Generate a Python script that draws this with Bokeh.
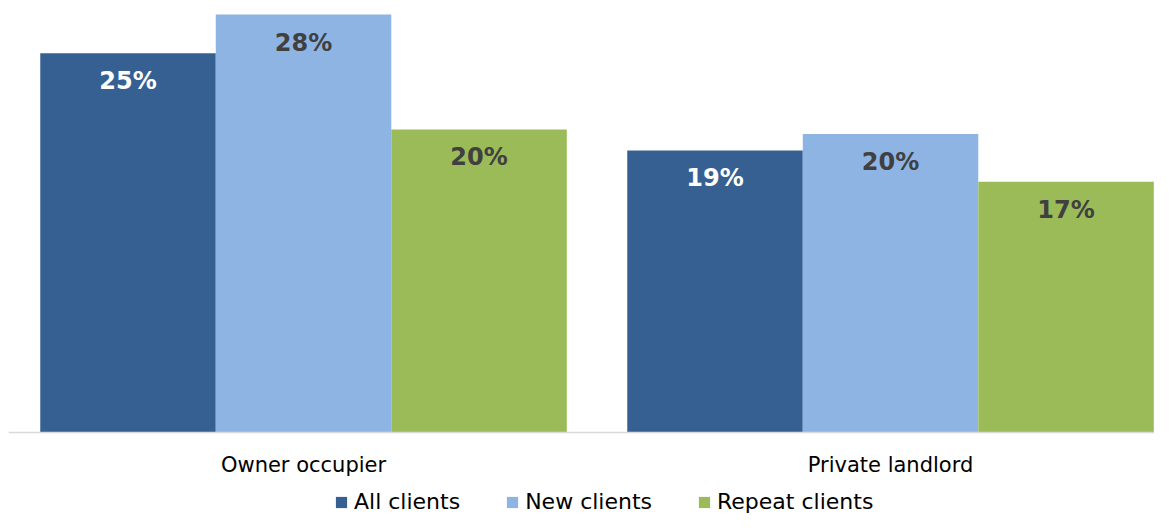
from bokeh.plotting import figure
from bokeh.models import Range1d, Legend, LegendItem, ColumnDataSource, Span
from bokeh.transform import dodge
from bokeh.core.properties import value
from bokeh.embed import file_html
from bokeh.resources import INLINE

categories = ["Owner occupier", "Private landlord"]
series = ["All clients", "New clients", "Repeat clients"]
all_clients = [25.4, 18.9]
new_clients = [28.0, 20.0]
repeat_clients = [20.3, 16.8]
colors = ["#376092", "#8EB4E3", "#9BBB59"]
label_colors = ["#FFFFFF", "#404040", "#404040"]

FONT = "DejaVu Sans"

p = figure(width=1154, height=514, output_backend="svg", toolbar_location=None,
           x_range=Range1d(-0.5026, 1.4497), y_range=Range1d(-5.49, 28.94),
           x_axis_location=None, y_axis_location=None,
           min_border_left=8, min_border_right=0,
           min_border_top=0, min_border_bottom=0, outline_line_color=None)
p.xgrid.visible = False
p.ygrid.visible = False

xs = list(range(len(categories)))
offsets = [-0.299, 0.0, 0.299]
renderers = []
for vals, col, lcol, off, name in zip([all_clients, new_clients, repeat_clients], colors,
                                      label_colors, offsets, series):
    src = ColumnDataSource(dict(x=xs, top=vals, lab=[f"{round(v)}%" for v in vals]))
    r = p.vbar(x=dodge("x", off), top="top", bottom=0, width=0.299, source=src,
               fill_color=col, line_color=None)
    renderers.append((name, r))
    p.text(x=dodge("x", off), y="top", text="lab", source=src, y_offset=28,
           text_align="center", text_baseline="middle", text_color=lcol,
           text_font=value(FONT), text_font_style="bold", text_font_size="24px")

# category axis: baseline line and labels
p.add_layout(Span(location=0, dimension="width", line_color="#D9D9D9", line_width=1.5))
cat_src = ColumnDataSource(dict(x=xs, y=[0] * len(xs), lab=categories))
p.text(x="x", y="y", text="lab", source=cat_src, y_offset=32,
       text_align="center", text_baseline="middle", text_color="#000000",
       text_font=value(FONT), text_font_size="21px")

legend = Legend(items=[LegendItem(label=n, renderers=[r]) for n, r in renderers],
                orientation="horizontal", location=(326, 0),
                glyph_width=14, glyph_height=14, label_standoff=6, spacing=45,
                padding=0, margin=0, border_line_color=None, background_fill_alpha=0,
                label_text_font=FONT, label_text_font_size="22px", label_text_color="#000000")
p.add_layout(legend, "center")

open("out.html", "w").write(file_html(p, INLINE))
